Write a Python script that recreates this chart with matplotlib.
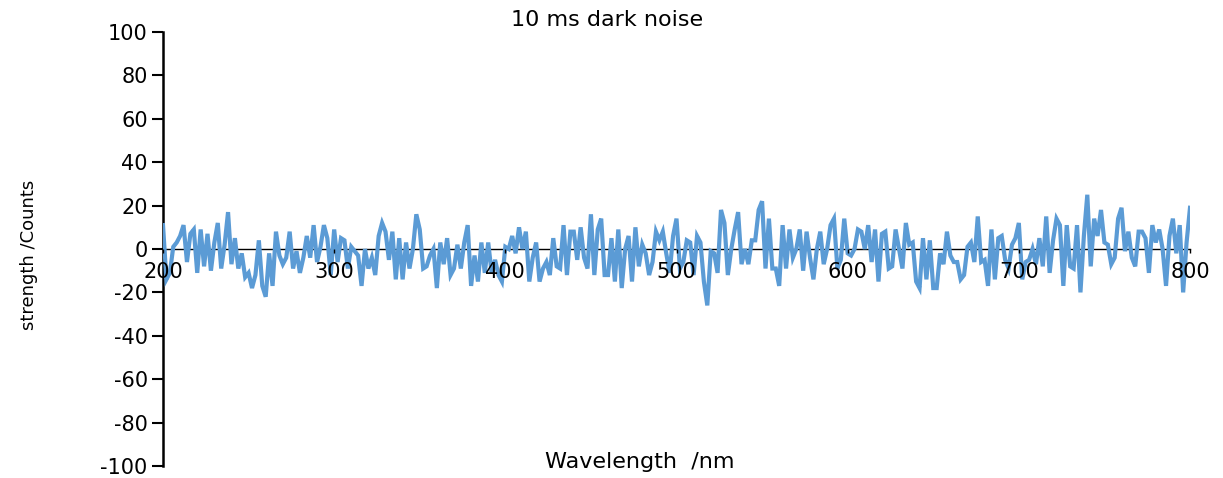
import matplotlib
matplotlib.use('Agg')
import matplotlib.pyplot as plt
import numpy as np

# dark noise counts, one value every 2 nm from 200 to 800 nm
counts = [
    11, -14, -11, 1, 3, 6, 11, -6, 7, 9,
    -11, 9, -8, 7, -10, 3, 12, -9, 2, 17,
    -7, 5, -9, -2, -13, -11, -18, -12, 4, -17,
    -22, -2, -17, 8, -3, -7, -4, 8, -9, -1,
    -11, -4, 6, -4, 11, -6, 1, 11, 5, -12,
    9,
    -6, 5, 4, -9, 1, -1, -3, -17, 0, -9,
    -4, -12, 6, 12, 8, -5, 8, -14, 5, -14,
    3, -9, 0, 16, 9, -9, -8, -3, 0, -18,
    3, -7, 5, -12, -9, 2, -9, 3, 11, -17,
    -3, -15, 3, -11, 3, -11, -5, -12, -15, 1,
    0, 6, -2, 10, 0, 8, -15, -4, 3, -15,
    -9, -6, -12, 5, -8, -9, 11, -12, 8, 8,
    -5, 10, -4, -9, 16, -12, 9, 14, -12, -12,
    5, -15, 9, -18, 0, 6, -15, 10, -8, 2,
    -2, -12, -6, 8, 4, 8, -2, -11, 6, 14,
    -9,
    -6, 4, 3, -12, 6, 3, -15, -26, -1, -2,
    -11, 18, 12, -12, 0, 9, 17, -7, 0, -7,
    4, 4, 18, 22, -9, 14, -9, -9, -17, 11,
    -9, 9, -4, 0, 9, -10, 8, -4, -14, 0,
    8, -7, 0, 11, 14, -9, -5, 14, -2, -3,
    0, 9, 8, 0, 11, -6, 9, -15, 7, 8,
    -9, -8, 9, 0, -9, 12, 2, 3, -15, -18,
    5, -14, 4, -18, -18, -2, -7, 8, -3, -6,
    -6, -14, -12, 1, 3, -6, 15, -6, -5, -17,
    9, -14, 5, 6, -5, -9, 2, 5, 12, -14,
    -6, -5,
    0, -7, 5, -8, 15, -11, 4, 14, 11, -17,
    11, -8, -9, 11, -20, 6, 25, -8, 14, 6,
    18, 3, 2, -7, -4, 14, 19, -1, 8, -4,
    -8, 8, 8, 5, -11, 11, 3, 9, 0, -17,
    6, 14, -2, 11, -20, 3, 19,
]
wavelength = np.linspace(200, 800, len(counts))

x_ticks = [200, 300, 400, 500, 600, 700, 800]
y_ticks = [-100, -80, -60, -40, -20, 0, 20, 40, 60, 80, 100]

plt.rcParams['font.family'] = ['DejaVu Sans']
plt.rcParams['axes.unicode_minus'] = False

fig = plt.figure(figsize=(12.23, 4.78), dpi=100)
ax = fig.add_axes([163 / 1223, 12 / 478, 1027 / 1223, 434 / 478])

ax.plot(wavelength, counts, color='#5b9bd5', lw=3.0, zorder=3, solid_joinstyle='miter')

ax.set_xlim(200, 800)
ax.set_ylim(-100, 100)
ax.set_xticks(x_ticks)
ax.set_yticks(y_ticks)

ax.spines['top'].set_visible(False)
ax.spines['right'].set_visible(False)
ax.spines['bottom'].set_position(('data', 0))
ax.spines['bottom'].set_linewidth(1.0)
ax.spines['bottom'].set_zorder(1)
ax.spines['left'].set_linewidth(1.8)

ax.tick_params(axis='y', direction='out', length=8, width=1.5, labelsize=15, pad=3)
ax.tick_params(axis='x', direction='out', length=3, width=1, labelsize=15, pad=6)
ax.xaxis.set_zorder(4)

fig.text(607 / 1223, 1 - 20 / 478, '10 ms dark noise', ha='center', va='center', fontsize=16)
fig.text(640 / 1223, 1 - 462 / 478, 'Wavelength  /nm', ha='center', va='center', fontsize=16)
fig.text(29 / 1223, 1 - 255 / 478, 'strength /Counts', rotation=90, ha='center', va='center',
         fontsize=13)

fig.savefig('out.png', dpi=100)
